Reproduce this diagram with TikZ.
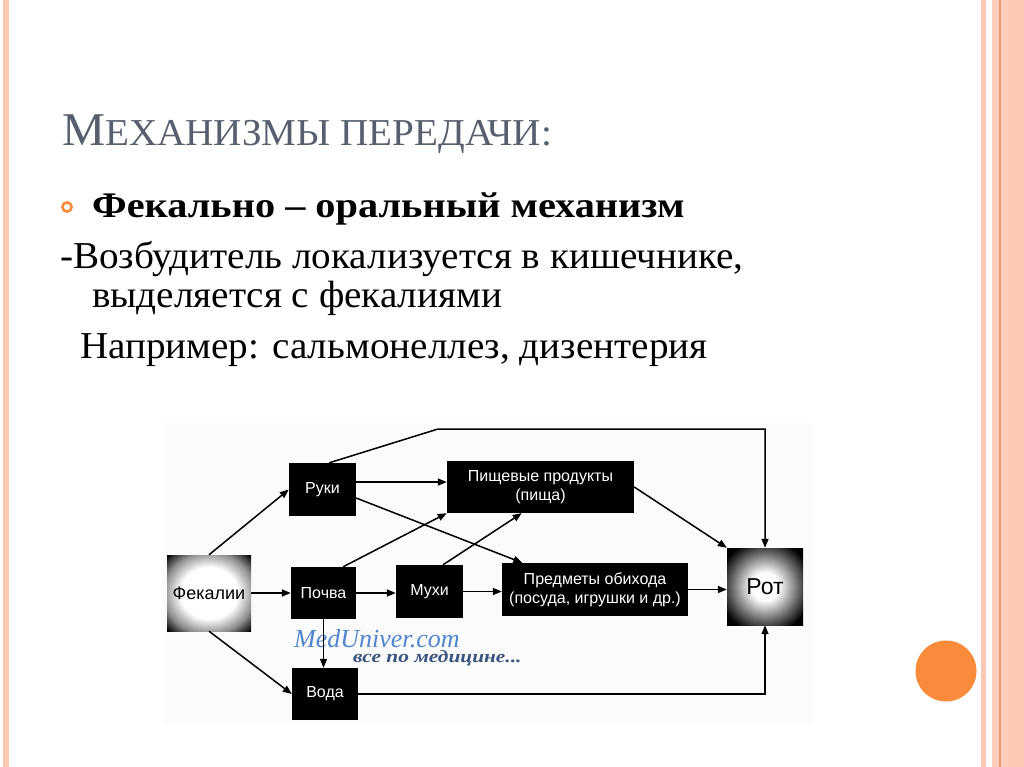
\documentclass[tikz,border=0pt]{standalone}
\usepackage{fontspec}
\setmainfont{Liberation Serif}
\newfontfamily\bodyfont{Liberation Serif}[FakeStretch=1.03]
\newfontfamily\boldfont{Liberation Serif}[FakeStretch=1.12]
\newfontfamily\titlefont{Liberation Serif}[FakeStretch=1.03]
\newfontfamily\wmfont{Liberation Serif}[FakeStretch=1.22]
\newfontfamily\boxfont{Liberation Sans}
\usetikzlibrary{arrows.meta,calc}
\definecolor{stripe}{HTML}{FBC8B4}
\definecolor{stripeline}{HTML}{EE9A6A}
\definecolor{accent}{HTML}{F98B3A}
\definecolor{titlecol}{HTML}{575F6E}
\definecolor{wmblue}{HTML}{4F86CF}
\definecolor{wmdark}{HTML}{3A5680}
\pgfdeclareradialshading{glowA}{\pgfpoint{0bp}{0bp}}{color(0bp)=(white); color(17bp)=(white); color(27bp)=(black!45); color(35bp)=(black); color(50bp)=(black)}
\pgfdeclareradialshading{glowB}{\pgfpoint{0bp}{0bp}}{color(0bp)=(white); color(9bp)=(white); color(21bp)=(black!55); color(31bp)=(black); color(50bp)=(black)}
\tikzset{
  blk/.style={fill=black, text=white, font=\boxfont\fontsize{16}{19}\selectfont, align=center, inner sep=0pt},
  arr/.style={line width=1.5pt, -{Triangle[length=9pt,width=7pt]}},
  bodytxt/.style={anchor=base west, inner sep=0pt, font=\bodyfont\fontsize{38}{40}\selectfont},
}
\begin{document}
\begin{tikzpicture}[x=1pt,y=-1pt]
\useasboundingbox (0,0) rectangle (1024,767);
\fill[white] (0,0) rectangle (1024,767);
% borders
\fill[stripe] (3,0) rectangle (9,767);
\fill[stripe] (980.5,0) rectangle (985.5,767);
\fill[stripe!90] (991.5,0) rectangle (1024,767);
\fill[stripe] (1008,0) rectangle (1024,767);
\draw[stripeline, line width=1.2pt] (1000,0) -- (1000,767);
\fill[accent] (946,671) circle (30.5);
% title
\node[anchor=base west, inner sep=0pt, text=titlecol] (title) at (62,146)
  {\titlefont\fontsize{47}{50}\selectfont М\fontsize{38}{40}\selectfont ЕХАНИЗМЫ ПЕРЕДАЧИ:};
% bullet
\draw[accent, line width=2.6pt] (67,207) circle (4.6);
\node[bodytxt, font=\boldfont\bfseries\fontsize{36}{38}\selectfont] (l1) at (92,218) {Фекально – оральный механизм};
\node[bodytxt] (l2) at (60,268) {-Возбудитель локализуется в кишечнике,};
\node[bodytxt] (l3) at (92,307) {выделяется с фекалиями};
\node[bodytxt] (l4) at (80,358) {Например: сальмонеллез, дизентерия};
% diagram panel
\fill[black!1.5] (163,423) rectangle (812,724);
% nodes
\node[inner sep=0pt, minimum width=84pt, minimum height=76pt, shading=glowA] (fek) at (209,593) {};
\node[font=\boxfont\fontsize{18}{20}\selectfont] (fektxt) at (fek) {Фекалии};
\node[blk, minimum width=67pt, minimum height=53pt] (ruki) at (322.5,489.5) {Руки};
\node[blk, minimum width=65pt, minimum height=52pt] (pochva) at (323.5,593) {Почва};
\node[blk, minimum width=67pt, minimum height=53pt] (muhi) at (429.5,591.5) {Мухи};
\node[blk, minimum width=66pt, minimum height=52pt] (voda) at (325,694) {Вода};
\node[blk, minimum width=187pt, minimum height=52pt] (pish) at (540.5,487) {Пищевые продукты\\(пища)};
\node[blk, minimum width=186pt, minimum height=53pt] (pred) at (595,589.5) {Предметы обихода\\(посуда, игрушки и др.)};
\node[inner sep=0pt, minimum width=76pt, minimum height=77pt, shading=glowB] (rot) at (765,586.5) {};
\node[font=\boxfont\fontsize{23}{26}\selectfont] (rottxt) at (rot) {Рот};
% watermark
\node[anchor=base west, inner sep=0pt, text=wmblue, font=\itshape\fontsize{26}{28}\selectfont] (wm1) at (294,647) {MedUniver.com};
\node[anchor=base west, inner sep=0pt, text=wmdark, font=\wmfont\bfseries\itshape\fontsize{17.5}{19}\selectfont] (wm2) at (353,662) {все по медицине...};
% connectors
\draw[arr] (fek.north) -- (ruki.west);
\draw[arr] (fek.east) -- (pochva.west);
\draw[arr] (fek.south) -- (voda.west);
\coordinate (r1) at ($(ruki.north east)!0.36!(ruki.south east)$);
\draw[arr] (r1) -- (r1 -| pish.west);
\draw[arr] ($(ruki.north east)!0.66!(ruki.south east)$) -- ($(pred.north west)!0.11!(pred.north east)$);
\draw[arr] ($(pochva.north west)!0.8!(pochva.north east)$) -- (pish.south west);
\draw[arr] ($(muhi.north west)!0.7!(muhi.north east)$) -- ($(pish.south west)!0.4!(pish.south east)$);
\draw[arr] (pochva.east) -- (pochva.east -| muhi.west);
\draw[arr] (muhi.east) -- (muhi.east -| pred.west);
\draw[arr] (pochva.south) -- (pochva.south |- voda.north);
\draw[arr] (pish.east) -- (rot.north west);
\draw[arr] (pred.east) -- (pred.east -| rot.west);
\draw[arr] (voda.east) -- (voda.east -| rot.south) -- (rot.south);
\coordinate (top1) at (438,429);
\draw[arr] ($(ruki.north west)!0.6!(ruki.north east)$) -- (top1) -- (top1 -| rot.north) -- (rot.north);
\end{tikzpicture}
\end{document}
